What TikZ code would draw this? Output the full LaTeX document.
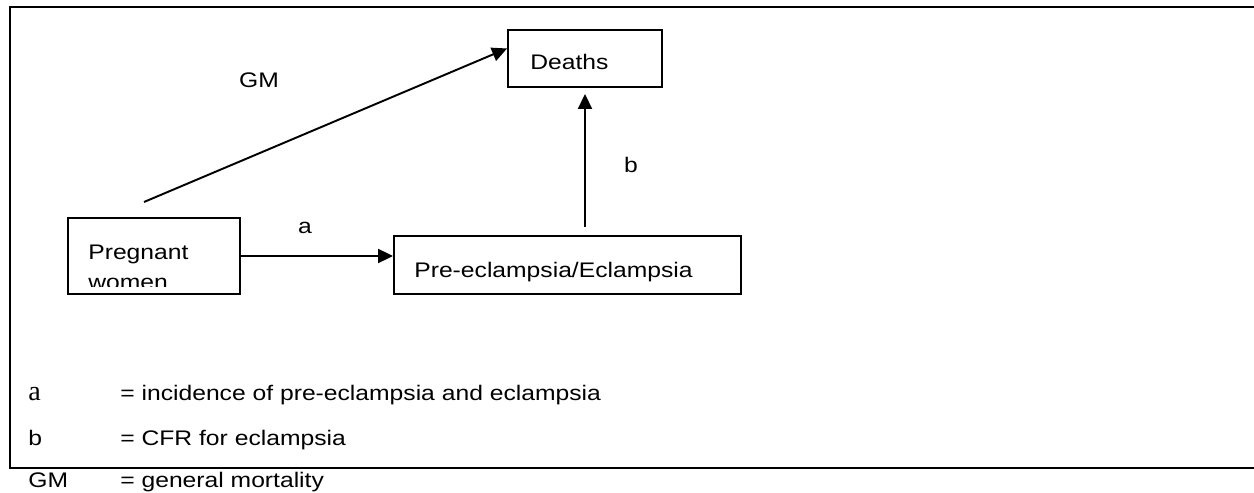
\documentclass[tikz,border=0pt]{standalone}
\usepackage{fontspec}
\setmainfont{Liberation Sans}[FakeStretch=1.17]
\newfontfamily\legendserif{Liberation Serif}
\usetikzlibrary{arrows.meta,calc}
\tikzstyle{box} = [draw=black,line width=1.1pt,rectangle,inner sep=0pt]
\tikzstyle{lbl} = [anchor=base west,inner sep=0pt,font=\fontsize{12}{14}\selectfont]
\tikzstyle{tag} = [anchor=base,inner sep=0pt,font=\fontsize{12}{14}\selectfont]
\tikzstyle{edge} = [-{Triangle[length=0.3cm,width=0.28cm]},line width=1.1pt,draw=black]

\begin{document}
\begin{tikzpicture}[x=0.02cm,y=-0.02cm]
\useasboundingbox (0,0) rectangle (1254,493);
\draw[line width=1.1pt] (10,7) rectangle (1264,468);

\node[box,minimum width=3.08cm,minimum height=1.14cm] (D) at (585,58.5) {};
\node[lbl] (Dt) at (530,70) {Deaths};

\node[box,minimum width=3.44cm,minimum height=1.52cm] (PW) at (154,256) {};
\begin{scope}
\clip (PW.north west) rectangle (240,286);
\node[lbl] (PWa) at (88,259) {Pregnant};
\node[lbl] (PWb) at (88,289) {women};
\end{scope}

\node[box,minimum width=6.94cm,minimum height=1.16cm] (PE) at (567.5,265) {};
\node[lbl] (PEt) at (414,277) {Pre-eclampsia/Eclampsia};

\coordinate (G) at (144,202);
\draw[edge] (G) -- ($(D.north west)!0.33!(D.south west)$);
\node[tag] (GM) at (259,88) {GM};

\draw[edge] (PW.east) -- (PW.east -| PE.west);
\node[tag] (A) at (305,234) {a};

\coordinate (B) at (585,227);
\draw[edge,shorten >=0.12cm] (B) -- (D.south);
\node[tag] (Bl) at (631,173) {b};

\node[lbl,font=\legendserif\fontsize{16}{18}\selectfont] (La) at (28,400) {a};
\node[lbl] (Lat) at (120,400) {= incidence of pre-eclampsia and eclampsia};
\node[lbl] (Lb) at (28,445) {b};
\node[lbl] (Lbt) at (120,445) {= CFR for eclampsia};
\node[lbl] (Lg) at (28,487) {GM};
\node[lbl] (Lgt) at (120,487) {= general mortality};
\end{tikzpicture}
\end{document}
